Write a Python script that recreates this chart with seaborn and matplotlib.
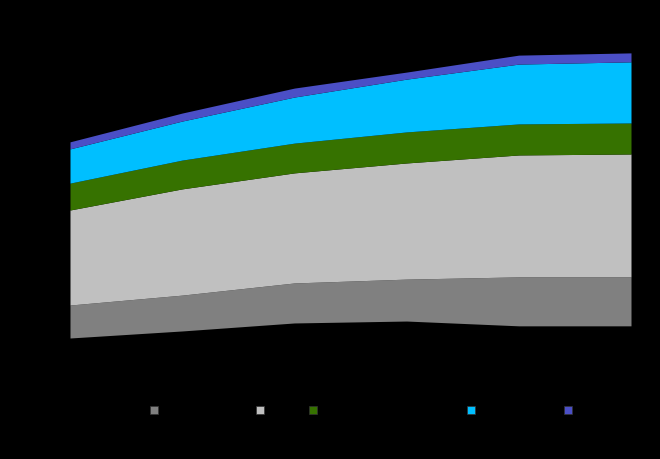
import matplotlib
matplotlib.use("Agg")
import matplotlib.pyplot as plt
from matplotlib.lines import Line2D
import seaborn as sns

# data (stacked values per year)
years = [2015, 2016, 2017, 2018, 2019, 2020]
series_names = ["Other", "Coal firing", "Oil", "Natural gas liquid", "Biodiesel", "Solar"]
other = [10.0, 12.2, 14.7, 15.3, 13.8, 13.8]
coal = [10.3, 11.2, 12.5, 13.1, 15.3, 15.3]
oil = [29.7, 33.2, 34.4, 36.3, 38.1, 38.4]
gas = [8.4, 9.0, 9.3, 9.7, 9.7, 9.7]
biodiesel = [10.7, 12.2, 14.4, 16.5, 18.7, 19.1]
solar = [2.2, 2.5, 2.8, 2.2, 2.8, 2.8]
colors = ["#000000", "#808080", "#c0c0c0", "#367200", "#00bfff", "#4b4fc6"]

sns.set_theme(style="dark", rc={"axes.facecolor": "black", "figure.facecolor": "black"})

fig = plt.figure(figsize=(6.6, 4.59), dpi=100)
ax = fig.add_axes([70 / 660, 89 / 459, 561 / 660, 320 / 459])

ax.stackplot(years, other, coal, oil, gas, biodiesel, solar, colors=colors,
             labels=series_names, linewidth=0)
ax.set_xlim(years[0], years[-1])
ax.set_ylim(0, 100)
for s in ax.spines.values():
    s.set_visible(False)
ax.tick_params(colors="black", labelcolor="black")
ax.grid(False)

# legend: square markers, text in black (invisible on the background)
edges = ["#000000", "#333333", "#333333", "#333333", "#333333", "#333333"]
handles = [Line2D([], [], marker="s", linestyle="none", markersize=6,
                  markerfacecolor=c, markeredgecolor=e, markeredgewidth=0.5)
           for c, e in zip(colors, edges)]
leg = fig.legend(handles, series_names, loc="center", bbox_to_anchor=(345 / 660, 48 / 459),
                 ncol=6, frameon=False, fontsize=10, handlelength=1,
                 handletextpad=0.5, columnspacing=1.0)
for t in leg.get_texts():
    t.set_color("black")

fig.savefig("out.png", dpi=100, facecolor="black")
